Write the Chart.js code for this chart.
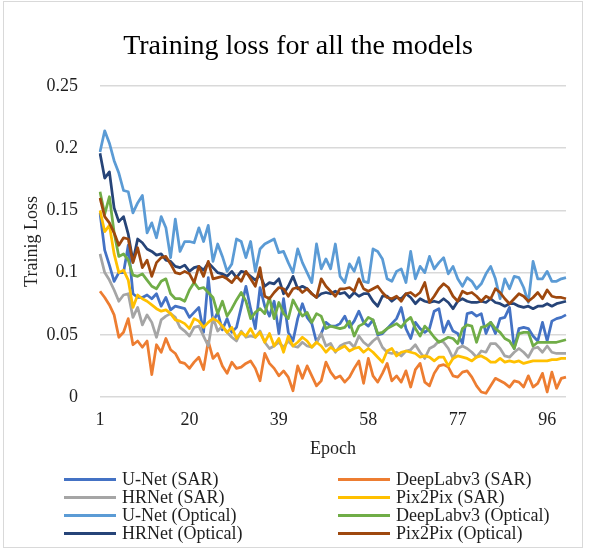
<!DOCTYPE html>
<html>
<head>
<meta charset="utf-8">
<script src="https://cdn.jsdelivr.net/npm/chart.js@4.4.1/dist/chart.umd.min.js"></script>
<style>
  body { margin: 0; background: #fff; }
  #wrap { position: relative; width: 590px; height: 555px; }
  #frame { position: absolute; left: 3px; top: 1px; width: 580px; height: 547px; border: 1px solid #d9d9d9; box-sizing: border-box; pointer-events: none; }
  #legend { position: absolute; left: 0; top: 0; font-family: "Times New Roman", "Liberation Serif", serif; font-size: 18px; color: #1f1f1f; }
  .item { position: absolute; white-space: nowrap; height: 19px; line-height: 19px; }
  .key { position: absolute; top: 8px; height: 3px; width: 52px; }
  .lab { position: absolute; left: 58px; top: 0; }
</style>
</head>
<body>
<div id="wrap">
  <canvas id="lossChart" width="590" height="555"></canvas>
  <div id="legend"></div>
  <div id="frame"></div>
</div>
<script>
// epochs 1..100
const epochs = [];
for (let i = 1; i <= 100; i++) epochs.push(i);

const chartTitle = 'Training loss for all the models';
const seriesNames = ['U-Net (SAR)', 'DeepLabv3 (SAR)', 'HRNet (SAR)', 'Pix2Pix (SAR)',
                     'U-Net (Optical)', 'DeepLabv3 (Optical)', 'HRNet (Optical)', 'Pix2Pix (Optical)'];
const seriesColors = ['#4472C4', '#ED7D31', '#A5A5A5', '#FFC000', '#5B9BD5', '#70AD47', '#264478', '#9E480E'];

const yTicks = [0, 0.05, 0.1, 0.15, 0.2, 0.25];

const uNetSar = [
  0.148, 0.118, 0.106, 0.093, 0.100, 0.100, 0.122, 0.083, 0.080, 0.080, 0.082, 0.079, 0.083, 0.073, 0.080, 0.070, 0.073,
  0.072, 0.071, 0.064, 0.068, 0.072, 0.052, 0.096, 0.060, 0.068, 0.054, 0.063, 0.052, 0.056, 0.072, 0.089, 0.071,
  0.055, 0.088, 0.073, 0.065, 0.077, 0.051, 0.079, 0.052, 0.045, 0.063, 0.075, 0.064, 0.059, 0.044, 0.051, 0.060, 0.057,
  0.057, 0.059, 0.065, 0.056, 0.061, 0.069, 0.060, 0.057, 0.062, 0.050, 0.051, 0.055, 0.059, 0.063, 0.072, 0.055, 0.047,
  0.060, 0.055, 0.052, 0.055, 0.069, 0.071, 0.052, 0.061, 0.053, 0.051, 0.043, 0.067, 0.068, 0.065, 0.067, 0.051,
  0.060, 0.051, 0.063, 0.064, 0.072, 0.039, 0.055, 0.056, 0.055, 0.049, 0.045, 0.060, 0.045, 0.061, 0.063, 0.064, 0.066
];
const deepLabSar = [
  0.085, 0.080, 0.074, 0.066, 0.048, 0.052, 0.063, 0.042, 0.045, 0.040, 0.045, 0.018, 0.042, 0.036, 0.047, 0.038, 0.035,
  0.028, 0.027, 0.023, 0.028, 0.032, 0.022, 0.045, 0.031, 0.035, 0.025, 0.019, 0.028, 0.023, 0.024, 0.027, 0.029,
  0.023, 0.013, 0.035, 0.027, 0.023, 0.017, 0.021, 0.016, 0.005, 0.025, 0.015, 0.025, 0.017, 0.009, 0.013, 0.028, 0.020,
  0.015, 0.017, 0.012, 0.016, 0.023, 0.029, 0.011, 0.031, 0.017, 0.012, 0.019, 0.027, 0.013, 0.017, 0.012, 0.021, 0.008,
  0.022, 0.027, 0.012, 0.009, 0.019, 0.025, 0.026, 0.024, 0.017, 0.016, 0.020, 0.021, 0.016, 0.009, 0.004, 0.003,
  0.009, 0.015, 0.013, 0.011, 0.008, 0.013, 0.012, 0.008, 0.017, 0.008, 0.011, 0.019, 0.004, 0.020, 0.007, 0.015, 0.016
];
const hrNetSar = [
  0.115, 0.100, 0.094, 0.086, 0.077, 0.082, 0.083, 0.064, 0.072, 0.058, 0.066, 0.060, 0.048, 0.062, 0.065, 0.067, 0.064, 0.056,
  0.053, 0.049, 0.056, 0.057, 0.049, 0.041, 0.064, 0.053, 0.057, 0.052, 0.048, 0.045, 0.053, 0.048, 0.049,
  0.048, 0.053, 0.044, 0.039, 0.041, 0.044, 0.040, 0.045, 0.041, 0.040, 0.044, 0.041, 0.040, 0.044, 0.051, 0.041, 0.043,
  0.036, 0.041, 0.043, 0.044, 0.040, 0.049, 0.044, 0.041, 0.045, 0.048, 0.040, 0.036, 0.035, 0.036, 0.033, 0.037, 0.038,
  0.042, 0.036, 0.031, 0.039, 0.041, 0.045, 0.044, 0.039, 0.031, 0.039, 0.041, 0.039, 0.036, 0.032, 0.037, 0.036,
  0.043, 0.043, 0.039, 0.033, 0.032, 0.036, 0.039, 0.036, 0.032, 0.039, 0.040, 0.036, 0.041, 0.036, 0.035, 0.035, 0.035
];
const pix2pixSar = [
  0.150, 0.133, 0.138, 0.115, 0.100, 0.102, 0.094, 0.072, 0.082, 0.079, 0.077, 0.074, 0.071, 0.069, 0.070, 0.067, 0.062, 0.061,
  0.059, 0.055, 0.063, 0.061, 0.056, 0.060, 0.063, 0.061, 0.057, 0.052, 0.056, 0.047, 0.052, 0.049, 0.055, 0.048,
  0.052, 0.044, 0.051, 0.041, 0.047, 0.036, 0.049, 0.041, 0.044, 0.048, 0.045, 0.040, 0.044, 0.041, 0.036, 0.040,
  0.037, 0.039, 0.041, 0.037, 0.039, 0.040, 0.036, 0.039, 0.036, 0.032, 0.028, 0.037, 0.039, 0.033, 0.036, 0.037, 0.036,
  0.035, 0.032, 0.033, 0.032, 0.029, 0.032, 0.032, 0.025, 0.031, 0.033, 0.032, 0.031, 0.029, 0.032, 0.033, 0.031,
  0.028, 0.028, 0.031, 0.028, 0.029, 0.028, 0.029, 0.027, 0.028, 0.029, 0.029, 0.029, 0.029, 0.030, 0.030, 0.031, 0.031
];
const uNetOpt = [
  0.197, 0.214, 0.204, 0.190, 0.180, 0.166, 0.165, 0.148, 0.156, 0.162, 0.132, 0.140, 0.128, 0.145, 0.136, 0.112, 0.143,
  0.117, 0.125, 0.125, 0.124, 0.136, 0.125, 0.138, 0.109, 0.123, 0.113, 0.101, 0.107, 0.127, 0.125, 0.112, 0.125,
  0.101, 0.119, 0.123, 0.125, 0.127, 0.116, 0.117, 0.108, 0.100, 0.119, 0.108, 0.100, 0.092, 0.123, 0.103, 0.111, 0.103,
  0.123, 0.097, 0.092, 0.107, 0.101, 0.112, 0.093, 0.092, 0.119, 0.117, 0.111, 0.095, 0.093, 0.101, 0.103, 0.092, 0.117,
  0.095, 0.105, 0.100, 0.113, 0.103, 0.108, 0.112, 0.099, 0.105, 0.095, 0.089, 0.096, 0.093, 0.087, 0.091, 0.099,
  0.105, 0.095, 0.079, 0.095, 0.087, 0.097, 0.096, 0.088, 0.076, 0.109, 0.095, 0.095, 0.101, 0.093, 0.093, 0.095, 0.096
];
const deepLabOpt = [
  0.165, 0.147, 0.161, 0.132, 0.113, 0.115, 0.110, 0.098, 0.097, 0.099, 0.094, 0.089, 0.087, 0.093, 0.095, 0.083, 0.079,
  0.079, 0.077, 0.086, 0.092, 0.087, 0.088, 0.084, 0.080, 0.067, 0.077, 0.065, 0.071, 0.078, 0.084, 0.077, 0.063,
  0.068, 0.071, 0.067, 0.080, 0.063, 0.076, 0.067, 0.063, 0.078, 0.071, 0.065, 0.068, 0.060, 0.067, 0.065, 0.055, 0.057,
  0.056, 0.055, 0.056, 0.061, 0.049, 0.057, 0.059, 0.064, 0.062, 0.051, 0.052, 0.055, 0.057, 0.059, 0.056, 0.061, 0.064,
  0.055, 0.049, 0.057, 0.053, 0.048, 0.044, 0.046, 0.048, 0.047, 0.043, 0.055, 0.058, 0.057, 0.044, 0.056, 0.057,
  0.060, 0.055, 0.052, 0.047, 0.045, 0.039, 0.051, 0.052, 0.052, 0.041, 0.044, 0.044, 0.044, 0.044, 0.044, 0.045, 0.046
];
const hrNetOpt = [
  0.196, 0.176, 0.181, 0.152, 0.141, 0.145, 0.131, 0.109, 0.127, 0.124, 0.119, 0.117, 0.114, 0.115, 0.110, 0.109, 0.105,
  0.104, 0.106, 0.101, 0.104, 0.105, 0.102, 0.108, 0.104, 0.100, 0.099, 0.097, 0.101, 0.096, 0.101, 0.100, 0.097,
  0.094, 0.098, 0.089, 0.092, 0.091, 0.095, 0.083, 0.089, 0.097, 0.087, 0.089, 0.087, 0.083, 0.080, 0.083, 0.084, 0.083,
  0.085, 0.083, 0.084, 0.080, 0.084, 0.081, 0.083, 0.083, 0.077, 0.073, 0.081, 0.081, 0.077, 0.080, 0.079, 0.083, 0.080,
  0.075, 0.079, 0.077, 0.076, 0.077, 0.076, 0.079, 0.076, 0.071, 0.077, 0.079, 0.077, 0.076, 0.076, 0.077, 0.076,
  0.079, 0.076, 0.075, 0.073, 0.075, 0.075, 0.073, 0.072, 0.073, 0.071, 0.073, 0.073, 0.075, 0.073, 0.075, 0.076, 0.077
];
const pix2pixOpt = [
  0.160, 0.145, 0.140, 0.132, 0.122, 0.128, 0.127, 0.108, 0.120, 0.104, 0.110, 0.097, 0.108, 0.112, 0.113, 0.107, 0.100,
  0.099, 0.101, 0.099, 0.092, 0.105, 0.097, 0.109, 0.095, 0.096, 0.097, 0.095, 0.092, 0.097, 0.093, 0.101, 0.095,
  0.089, 0.104, 0.081, 0.079, 0.084, 0.088, 0.087, 0.081, 0.087, 0.088, 0.084, 0.087, 0.083, 0.080, 0.095, 0.089, 0.085,
  0.081, 0.087, 0.087, 0.088, 0.085, 0.095, 0.087, 0.085, 0.087, 0.089, 0.084, 0.080, 0.079, 0.081, 0.077, 0.083, 0.084,
  0.081, 0.084, 0.092, 0.076, 0.081, 0.087, 0.091, 0.088, 0.081, 0.077, 0.085, 0.083, 0.084, 0.081, 0.077, 0.081,
  0.079, 0.087, 0.084, 0.079, 0.075, 0.079, 0.083, 0.081, 0.077, 0.080, 0.084, 0.079, 0.086, 0.081, 0.080, 0.080, 0.079
];

const seriesData = [uNetSar, deepLabSar, hrNetSar, pix2pixSar, uNetOpt, deepLabOpt, hrNetOpt, pix2pixOpt];

const serif = '"Times New Roman", "Liberation Serif", serif';
const textColor = '#1f1f1f';

const datasets = seriesNames.map((name, i) => ({
    label: name,
    data: seriesData[i],
    borderColor: seriesColors[i],
    backgroundColor: seriesColors[i],
    borderWidth: 2.75,
    pointRadius: 0,
    tension: 0,
    fill: false,
    borderJoinStyle: 'round',
    order: seriesNames.length - i   // later series drawn on top, like Excel
}));

// title centred over the whole chart box, not just the plot
const titlePlugin = {
    id: 'boxTitle',
    afterDraw(chart) {
        const c = chart.ctx;
        c.save();
        c.font = '28px ' + serif;
        c.fillStyle = '#000';
        c.textAlign = 'center';
        c.textBaseline = 'middle';
        c.fillText(chartTitle, 298, 47);
        c.restore();
    }
};

const ctx = document.getElementById('lossChart').getContext('2d');
const chart = new Chart(ctx, {
    type: 'line',
    data: { labels: epochs, datasets: datasets },
    plugins: [titlePlugin],
    options: {
        responsive: false,
        animation: false,
        devicePixelRatio: 1,
        layout: { padding: { top: 86, left: 0, right: 24, bottom: 0 } },
        plugins: {
            legend: { display: false },
            tooltip: { enabled: false },
            title: { display: false }
        },
        scales: {
            x: {
                offset: false,
                grid: { display: false, drawTicks: false },
                border: { display: false },
                ticks: {
                    autoSkip: false, maxRotation: 0, padding: 12,
                    color: textColor, font: { family: serif, size: 18 },
                    callback: (v, i) => (i % 19 === 0 ? String(epochs[i]) : '')
                },
                title: {
                    display: true, text: 'Epoch', color: textColor,
                    font: { family: serif, size: 18 },
                    padding: { top: 0, bottom: 95 }
                },
                afterFit: s => { s.height = 158; }
            },
            y: {
                min: 0, max: 0.25,
                afterBuildTicks: s => { s.ticks = yTicks.map(v => ({ value: v })); },
                grid: { color: '#d9d9d9', lineWidth: 1.5, drawTicks: false },
                border: { display: false },
                ticks: {
                    padding: 22, color: textColor, font: { family: serif, size: 18 },
                    callback: v => String(+v.toFixed(2))
                },
                title: {
                    display: true, text: 'Trainig Loss', color: textColor,
                    font: { family: serif, size: 18 },
                    padding: { top: 21, bottom: 0 }
                },
                afterFit: s => { s.width = 100; }
            }
        }
    }
});

// legend: two columns, filled row by row like the Excel legend
const legendBox = document.getElementById('legend');
const colLeft = [64, 338];
const rowTop = 470, rowStep = 18;
seriesNames.forEach((name, i) => {
    const item = document.createElement('div');
    item.className = 'item';
    item.style.left = colLeft[i % 2] + 'px';
    item.style.top = (rowTop + Math.floor(i / 2) * rowStep) + 'px';
    const key = document.createElement('span');
    key.className = 'key';
    key.style.background = seriesColors[i];
    const lab = document.createElement('span');
    lab.className = 'lab';
    lab.textContent = name;
    item.appendChild(key);
    item.appendChild(lab);
    legendBox.appendChild(item);
});
</script>
</body>
</html>
